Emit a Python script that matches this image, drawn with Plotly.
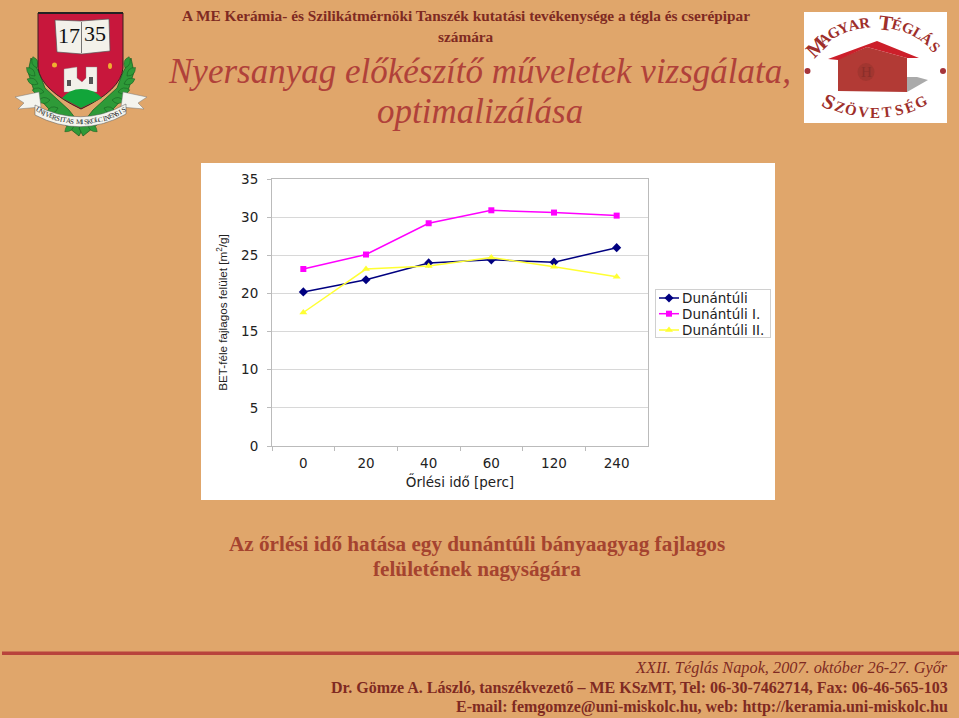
import math
import plotly.graph_objects as go

W, H = 959, 718
categories = ["0", "20", "40", "60", "120", "240"]
dunantuli = [20.2, 21.8, 24.0, 24.4, 24.1, 26.0]
dunantuli_1 = [23.2, 25.1, 29.2, 30.9, 30.6, 30.2]
dunantuli_2 = [17.5, 23.2, 23.6, 24.7, 23.5, 22.2]
y_ticks = [0, 5, 10, 15, 20, 25, 30, 35]

BG = "#E0A66B"
MAROON = "#7F2A22"
RED = "#B0413A"
CAPTION = "#A5432F"
SERIF = "Liberation Serif"
SANS = "Liberation Sans"
CHART_FONT = "DejaVu Sans"
CHART_SIZE = 13.5


def fx(x):
    return x / W


def fy(y):
    return 1 - y / H


def path_of(points, close=True):
    out = []
    for i, p in enumerate(points):
        if p[0] == "Q":
            out.append(f"Q{fx(p[1])},{fy(p[2])} {fx(p[3])},{fy(p[4])}")
        else:
            out.append(f"{'M' if i == 0 else 'L'}{fx(p[0])},{fy(p[1])}")
    return " ".join(out) + (" Z" if close else "")


shapes = []
annotations = []


def poly(points, fill, line="rgba(0,0,0,0)", width=0):
    shapes.append(dict(type="path", xref="paper", yref="paper", path=path_of(points),
                       fillcolor=fill, line=dict(color=line, width=width), layer="below"))


def rect(x0, y0, x1, y1, fill):
    shapes.append(dict(type="rect", xref="paper", yref="paper", x0=fx(x0), x1=fx(x1), y0=fy(y0), y1=fy(y1),
                       fillcolor=fill, line=dict(width=0), layer="below"))


def circle(cx, cy, rx, ry, fill):
    shapes.append(dict(type="circle", xref="paper", yref="paper", x0=fx(cx - rx), x1=fx(cx + rx), y0=fy(cy - ry),
                       y1=fy(cy + ry), fillcolor=fill, line=dict(width=0), layer="below"))


def text(x, y, s, size, color, family=SERIF, anchor="center", angle=0):
    annotations.append(dict(x=fx(x), y=fy(y), xref="paper", yref="paper", text=s, showarrow=False, xanchor=anchor,
                            yanchor="middle", textangle=angle, font=dict(size=size, color=color, family=family)))


def arc_text(s, cx, cy, r, a0, a1, size, color, big=(), big_size=None, bottom=False, family=SERIF, bold=False):
    n = len(s)
    for i, ch in enumerate(s):
        if ch == " ":
            continue
        a = a0 + (a1 - a0) * i / (n - 1)
        rad = math.radians(a)
        x = cx + r * math.sin(rad)
        y = cy - r * math.cos(rad) if not bottom else cy + r * math.cos(rad)
        sz = big_size if i in big else size
        text(x, y, f"<b>{ch}</b>" if bold else ch, sz, color, family, angle=a if not bottom else -a)


def leaf(x, y, angle, length=12, half=3.0, fill="#2E9A38"):
    c, s = math.cos(math.radians(angle)), math.sin(math.radians(angle))
    tip = (x + c * length, y + s * length)
    mid = (x + c * length / 2, y + s * length / 2)
    poly([(x, y), ("Q", mid[0] - s * half * 2, mid[1] + c * half * 2, tip[0], tip[1]),
          ("Q", mid[0] + s * half * 2, mid[1] - c * half * 2, x, y)], fill, "#12591E", 0.5)


# footer rule
rect(2, 651.5, W, 655, "#B8433C")

# University crest
wreath = [(37, 68, 250), (35, 76, 225), (38, 84, 205), (44, 92, 190), (50, 100, 175), (58, 108, 160), (66, 116, 150),
          (74, 124, 140)]
for side in (-1, 1):
    poly([(81 + side * 50, 58), (81 + side * 53, 72), (81 + side * 46, 94), (81 + side * 22, 120), (81 + side * 2, 136),
          (81 - side * 2, 128), (81 + side * 12, 110), (81 + side * 36, 88), (81 + side * 42, 72)],
         "#2E9A38", "#12591E", 0.7)
    for lx, ly, ang in wreath:
        px = lx if side < 0 else 162 - lx
        a = ang if side < 0 else 180 - ang
        leaf(px, ly, a)
    # ribbon ends
    poly([(81 + side * 42, 92), (81 + side * 66, 97), (81 + side * 57, 103), (81 + side * 63, 109),
          (81 + side * 40, 107)], "#F4F4EE", "#777777", 0.5)
poly([(38, 13), (123, 13), (123, 68), ("Q", 121, 90, 81, 109), ("Q", 41, 90, 38, 68)], "#C8173C", "#3A2020", 1)
rect(38, 12, 123, 14, "#222222")
poly([(55, 20), (81, 21), (109, 19), (110, 51), (82, 54), (57, 52)], "#F3F1EA", "#555555", 0.7)
shapes.append(dict(type="line", xref="paper", yref="paper", x0=fx(81.5), x1=fx(81.5), y0=fy(22), y1=fy(53),
                   line=dict(color="#555555", width=0.8), layer="below"))
text(68.5, 35, "17", 22, "#111111")
text(95, 34, "35", 22, "#111111")
circle(54.5, 65, 2.5, 2.5, "#F0B030")
circle(110, 66, 2, 3, "#F0B030")
poly([(64, 69), (77, 67), (77, 78), (82, 82), (86, 78), (86, 67), (97, 67), (97, 92), (64, 92)], "#F3F1EA", "#888888", 0.4)
rect(67, 80, 71, 86, "#555555")
rect(89, 77, 93, 84, "#555555")
poly([(62, 98), ("Q", 70, 89, 81, 89), ("Q", 94, 89, 102, 98), (81, 108)], "#12A53A")
poly([(35, 105), ("Q", 81, 129, 126, 104), (126, 114), ("Q", 81, 139, 35, 115)], "#F4F4EE", "#555555", 0.5)
arc_text("UNIVERSITAS MISKOLCINENSIS", 81, 39, 83, -31, 31, 7, "#222222", bottom=True)

# Brick association logo
rect(804, 12, 947, 123, "#FFFFFF")
poly([(907, 92), (928, 80), (917, 77), (907, 77)], "#AAAAAA")
poly([(838, 59), (867, 47), (907, 58), (907, 92), (838, 91)], "#B23A35")
circle(866, 72, 8.5, 9, "#A23630")
text(866, 72, "H", 15, "#8B2E2A")
poly([(828, 59), (877, 41), (919, 58), (907, 58), (867, 47), (838, 60)], "#CC1F2A")
circle(807.5, 71, 3, 3, "#A5343A")
circle(943, 71, 3, 3, "#A5343A")
arc_text("MAGYAR TÉGLÁS", 875.5, 106, 84, -45, 45, 15, "#9E2F2B", big=(0, 7), big_size=21, bold=True)
arc_text("SZÖVETSÉG", 875, 12, 101, -27, 27, 15, "#9E2F2B", big=(0,), big_size=21, bottom=True, bold=True)

# Headings
header_1 = "A ME Kerámia- és Szilikátmérnöki Tanszék kutatási tevékenysége a tégla és cserépipar"
text(466, 16, f"<b>{header_1}</b>", 15.3, MAROON)
text(466, 36, "<b>számára</b>", 15.3, MAROON)
text(479, 71, "<i>Nyersanyag előkészítő műveletek vizsgálata,</i>", 35, RED)
text(480, 111, "<i>optimalizálása</i>", 35, RED)
text(477, 544, "<b>Az őrlési idő hatása egy dunántúli bányaagyag fajlagos</b>", 21.2, CAPTION)
text(477, 569, "<b>felületének nagyságára</b>", 21.2, CAPTION)
text(950, 667, "<i>XXII. Téglás Napok, 2007. október 26-27. Győr</i>", 16.3, MAROON, anchor="right")
text(950, 687, "<b>Dr. Gömze A. László, tanszékvezető – ME KSzMT, Tel: 06-30-7462714, Fax: 06-46-565-103</b>", 16, MAROON, anchor="right")
text(950, 707, "<b>E-mail: femgomze@uni-miskolc.hu, web: http://keramia.uni-miskolc.hu</b>", 16, MAROON, anchor="right")

# White chart panel
rect(201, 163, 775, 500, "#FFFFFF")

fig = go.Figure()
fig.add_trace(go.Scatter(x=categories, y=dunantuli, name="Dunántúli", mode="lines+markers",
                         line=dict(color="#000080", width=1.5), marker=dict(symbol="diamond", size=7, color="#000080")))
fig.add_trace(go.Scatter(x=categories, y=dunantuli_1, name="Dunántúli I.", mode="lines+markers",
                         line=dict(color="#FF00FF", width=1.5), marker=dict(symbol="square", size=6, color="#FF00FF")))
fig.add_trace(go.Scatter(x=categories, y=dunantuli_2, name="Dunántúli II.", mode="lines+markers",
                         line=dict(color="#FFFF33", width=1.5), marker=dict(symbol="triangle-up", size=7, color="#FFFF33")))

fig.update_layout(
    width=W, height=H, margin=dict(l=0, r=0, t=0, b=0), paper_bgcolor=BG, plot_bgcolor="rgba(0,0,0,0)",
    shapes=shapes, annotations=annotations, showlegend=True,
    font=dict(family=CHART_FONT, size=CHART_SIZE, color="#222222"),
    legend=dict(x=fx(655), y=fy(289), xanchor="left", yanchor="top", bgcolor="#FFFFFF", bordercolor="#D0D0D0",
                borderwidth=1, font=dict(size=CHART_SIZE, family=CHART_FONT, color="#222222")),
    xaxis=dict(domain=[fx(272), fx(648)], type="category", categoryorder="array", categoryarray=categories,
               range=[-0.5, 5.5], tickson="boundaries", ticks="outside", ticklen=4, tickcolor="#BBBBBB",
               showgrid=False, showline=True, linecolor="#BBBBBB", linewidth=1, mirror=True, automargin=False,
               ticklabelstandoff=5, title=dict(text="Őrlési idő [perc]", font=dict(size=CHART_SIZE, family=CHART_FONT)),
               tickfont=dict(size=CHART_SIZE, family=CHART_FONT)),
    yaxis=dict(domain=[fy(446), fy(179)], range=[0, 35], tickvals=y_ticks, ticks="outside", ticklen=4,
               tickcolor="#BBBBBB", gridcolor="#D8D8D8", gridwidth=1, showline=True, linecolor="#BBBBBB",
               linewidth=1, mirror=True, zeroline=False, automargin=False, ticklabelstandoff=6,
               title=dict(text="BET-féle fajlagos felület [m<sup>2</sup>/g]", font=dict(size=11.7, family=SANS)),
               tickfont=dict(size=CHART_SIZE, family=CHART_FONT)),
)

# Tighten the real legend to the compact rows of the reference (Plotly enforces a 19 px row minimum)
# and nudge the axis titles to where the reference has them.
post = """
document.body.style.margin='0';document.body.style.overflow='hidden';
var gd=document.getElementById('{plot_id}');
var leg=gd.querySelector('.legend');
var rows=[9,24.7,41];
leg.querySelectorAll('.traces').forEach(function(t,i){
  t.setAttribute('transform','translate(0,'+rows[i]+')');
  t.querySelector('.legendtext').setAttribute('x','27');
  t.querySelector('.js-line').setAttribute('d','M4,0h20');
  var p=t.querySelector('.legendpoints');
  if(p){p.querySelectorAll('.scatterpts').forEach(function(s){s.setAttribute('transform','translate(14,0)');});}
});
var bg=leg.querySelector('.bg');bg.setAttribute('width','115');bg.setAttribute('height','48');
gd.querySelectorAll('clipPath[id^="legend"] rect').forEach(function(r){r.setAttribute('width','115');r.setAttribute('height','48');});
function nudge(sel,dx,dy){var e=gd.querySelector(sel);if(e){e.setAttribute('transform','translate('+dx+','+dy+') '+(e.getAttribute('transform')||''));}}
nudge('.ytitle',4,0);
nudge('.xtitle',0,-8);
"""
fig.write_html("out.html", post_script=post, config=dict(displayModeBar=False))
